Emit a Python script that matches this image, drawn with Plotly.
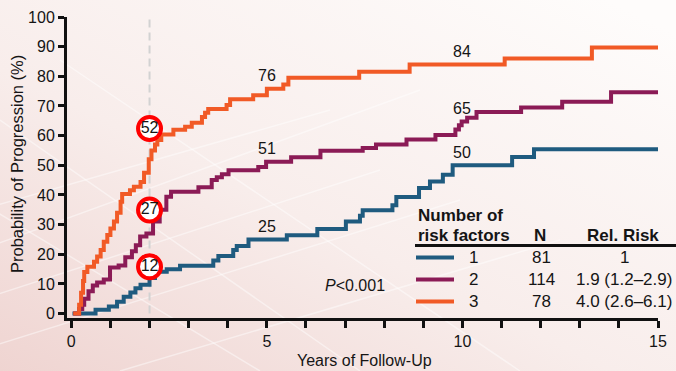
import base64
import plotly.graph_objects as go

# Kaplan-Meier style cumulative progression, by number of risk factors.
# Each series: times (years) where the estimate steps, and the level reached there (%).
rf1_years = [0.03, 0.62, 0.96, 1.17, 1.34, 1.51, 1.64, 1.77, 2.0, 2.14, 2.44, 2.78,
             3.63, 3.76, 4.14, 4.23, 4.53, 5.51, 6.29, 7.02, 7.38, 7.45, 8.21, 8.31,
             8.89, 9.17, 9.5, 9.75, 11.27, 11.83, 15.0]
rf1_pct = [0.0, 1.3, 2.4, 4.0, 5.7, 7.1, 8.5, 9.7, 12.0, 14.1, 14.9, 16.1,
           17.9, 19.4, 21.4, 22.8, 25.0, 26.4, 28.5, 31.0, 33.0, 34.8, 36.5, 39.3,
           42.3, 44.5, 46.8, 50.0, 52.8, 55.4, 55.4]

rf2_years = [0.05, 0.2, 0.28, 0.33, 0.44, 0.55, 0.66, 0.83, 0.99, 1.21, 1.38, 1.55,
             1.65, 1.76, 1.92, 2.09, 2.26, 2.43, 2.55, 3.25, 3.59, 3.72, 3.85, 4.02,
             4.78, 4.98, 5.62, 6.37, 7.45, 7.79, 8.57, 9.31, 9.82, 9.91, 9.98, 10.12,
             10.36, 11.5, 12.55, 13.8, 15.0]
rf2_pct = [0.0, 1.5, 3.0, 5.0, 7.5, 9.5, 10.5, 11.5, 15.5, 16.2, 19.0, 21.0,
           23.0, 26.0, 27.0, 31.0, 35.0, 39.4, 41.1, 42.6, 45.0, 46.0, 47.0, 48.3,
           49.4, 51.2, 52.7, 54.9, 55.8, 57.0, 58.7, 60.2, 62.1, 63.5, 64.8, 66.0,
           68.0, 69.5, 71.4, 74.6, 74.6]

rf3_years = [0.05, 0.2, 0.25, 0.3, 0.33, 0.41, 0.58, 0.66, 0.75, 0.83, 0.92, 1.0,
             1.09, 1.17, 1.26, 1.3, 1.5, 1.6, 1.77, 1.86, 1.98, 2.05, 2.14, 2.2,
             2.3, 2.61, 2.91, 3.08, 3.34, 3.42, 3.5, 3.97, 4.06, 4.65, 5.0, 5.42,
             5.55, 7.36, 8.65, 11.08, 13.31, 15.0]
rf3_pct = [0.0, 3.0, 7.0, 11.0, 14.0, 15.8, 17.5, 19.2, 21.4, 24.2, 26.5, 28.7,
           31.0, 34.0, 37.7, 40.3, 41.6, 42.8, 44.4, 47.5, 52.0, 55.0, 57.0, 58.5,
           60.4, 62.0, 63.0, 64.3, 66.3, 67.7, 69.0, 70.3, 72.3, 73.6, 75.8, 77.2,
           79.5, 81.5, 84.0, 86.0, 89.7, 89.7]

# Table beside the curves
group_labels = ["1", "2", "3"]
group_n = ["81", "114", "78"]
group_rr = ["1", "1.9 (1.2\u20132.9)", "4.0 (2.6\u20136.1)"]

callout_year = 2          # circled estimates
landmark_years = [5, 10]  # plain estimates
x_tick_labels = {0: "0", 5: "5", 10: "10", 15: "15"}

colors = ["#1f5b7f", "#8b1b56", "#f15a26"]
FONT = "Liberation Sans, Arial, sans-serif"
INK = "#151515"

W, H = 676, 371
ML, MR, MT, MB = 67, 18, 17, 53
PW, PH = W - ML - MR, H - MT - MB


def px(x):
    return (x - ML) / PW


def py(y):
    return (H - MB - y) / PH


def level_at(years, pct, t):
    v = 0.0
    for yr, p in zip(years, pct):
        if yr <= t:
            v = p
    return v


def note(x, y, text, font, xanchor="center", **kw):
    fig.add_annotation(x=px(x), y=py(y), xref="paper", yref="paper", text=text,
                       showarrow=False, xanchor=xanchor, yanchor="middle",
                       font=font, **kw)


series = [(rf1_years, rf1_pct), (rf2_years, rf2_pct), (rf3_years, rf3_pct)]

fig = go.Figure()

# soft pink-to-white backdrop with faint light streaks
streaks = "".join(
    f'<line x1="{x0}" y1="{y0}" x2="{x1}" y2="{y1}"/>'
    for x0, y0, x1, y1 in [(-20, 250, 420, 90), (-20, 300, 380, 170), (-20, 350, 460, 200),
                           (0, 120, 360, 371), (-40, 190, 260, 371), (60, 60, 520, 371),
                           (-20, 210, 330, 110), (120, 371, 560, 240)])
svg = f'''<svg xmlns="http://www.w3.org/2000/svg" width="{W}" height="{H}" viewBox="0 0 {W} {H}">
<defs><linearGradient id="g" x1="0" y1="1" x2="0.9" y2="0">
<stop offset="0" stop-color="#efd4d1"/><stop offset="0.45" stop-color="#f8edeb"/>
<stop offset="1" stop-color="#fefcfb"/></linearGradient></defs>
<rect width="{W}" height="{H}" fill="url(#g)"/>
<g stroke="#ffffff" stroke-opacity="0.45" stroke-width="1.5">{streaks}</g></svg>'''
uri = "data:image/svg+xml;base64," + base64.b64encode(svg.encode()).decode()
fig.add_layout_image(source=uri, xref="paper", yref="paper", x=px(0), y=py(0),
                     sizex=W / PW, sizey=H / PH, sizing="stretch",
                     xanchor="left", yanchor="top", layer="below")

# reference line at the callout year
fig.add_shape(type="line", xref="x", yref="y", x0=callout_year, x1=callout_year,
              y0=0, y1=100, line=dict(color="#d2d2d2", width=2, dash="8px,5px"),
              layer="below")

for (yrs, pct), c, name in zip(series, colors, group_labels):
    fig.add_trace(go.Scatter(x=yrs, y=pct, mode="lines", line_shape="hv",
                             line=dict(color=c, width=4), name=name,
                             showlegend=False, hoverinfo="skip"))

# landmark estimates above the curves
for (yrs, pct) in series:
    for t in landmark_years:
        v = level_at(yrs, pct, t)
        fig.add_annotation(x=t, y=v, xref="x", yref="y", text=f"{round(v)}",
                           showarrow=False, yshift=13, xanchor="center",
                           yanchor="middle", font=dict(family=FONT, size=16, color=INK))

# circled estimates at the callout year
callout_shift = [3.8, 7.9, 10.4]
cv = [level_at(yrs, pct, callout_year) for (yrs, pct) in series]
fig.add_trace(go.Scatter(
    x=[callout_year] * 3, y=[v + s for v, s in zip(cv, callout_shift)],
    mode="markers+text", text=[f"{round(v)}" for v in cv], textposition="middle center",
    textfont=dict(family=FONT, size=16, color=INK),
    marker=dict(size=23, color="white", line=dict(color="#ff0000", width=4)),
    showlegend=False, hoverinfo="skip"))

# axis titles and p-value
note(364, 360, "Years of Follow-Up", dict(family=FONT, size=16, color=INK))
note(17, 164, "Probability of Progression (%)", dict(family=FONT, size=16.5, color=INK),
     textangle=-90)
note(355, 285, "<i>P</i>&lt;0.001", dict(family=FONT, size=16, color=INK))

# risk-factor table
bold = dict(family=FONT, size=17, color=INK)
plain = dict(family=FONT, size=17, color=INK)
note(416, 215, "<b>Number of</b>", bold, xanchor="left")
note(416, 235, "<b>risk factors</b>", bold, xanchor="left")
note(540, 235, "<b>N</b>", bold)
note(623, 235, "<b>Rel. Risk</b>", bold)
fig.add_shape(type="line", xref="paper", yref="paper", x0=px(415), x1=px(677),
              y0=py(245.5), y1=py(245.5), line=dict(color="#111111", width=3))
row_y = [257.5, 279.5, 301.5]
for ry, c, lab, n, rr in zip(row_y, colors, group_labels, group_n, group_rr):
    fig.add_shape(type="line", xref="paper", yref="paper", x0=px(416), x1=px(454),
                  y0=py(ry), y1=py(ry), line=dict(color=c, width=4))
    note(473, ry, lab, plain)
    note(541, ry, n, plain)
    note(624, ry, rr, plain)

fig.update_layout(
    width=W, height=H, margin=dict(l=ML, r=MR, t=MT, b=MB, autoexpand=False),
    paper_bgcolor="white", plot_bgcolor="rgba(0,0,0,0)",
    font=dict(family=FONT, size=16, color=INK), showlegend=False,
    xaxis=dict(range=[-0.11, 15], tickvals=list(range(16)),
               ticktext=[x_tick_labels.get(i, "") for i in range(16)],
               ticks="outside", ticklen=7, tickwidth=2.5, tickcolor="#111111",
               showline=True, linewidth=3, linecolor="#111111", automargin=False,
               showgrid=False, zeroline=False, tickfont=dict(size=16)),
    yaxis=dict(range=[-1.5, 100], tickvals=list(range(0, 101, 10)),
               ticks="outside", ticklen=6, tickwidth=2.5, tickcolor="#111111",
               showline=True, linewidth=3, linecolor="#111111", automargin=False,
               showgrid=False, zeroline=False, tickfont=dict(size=16)),
)

fig.write_html("out.html")
